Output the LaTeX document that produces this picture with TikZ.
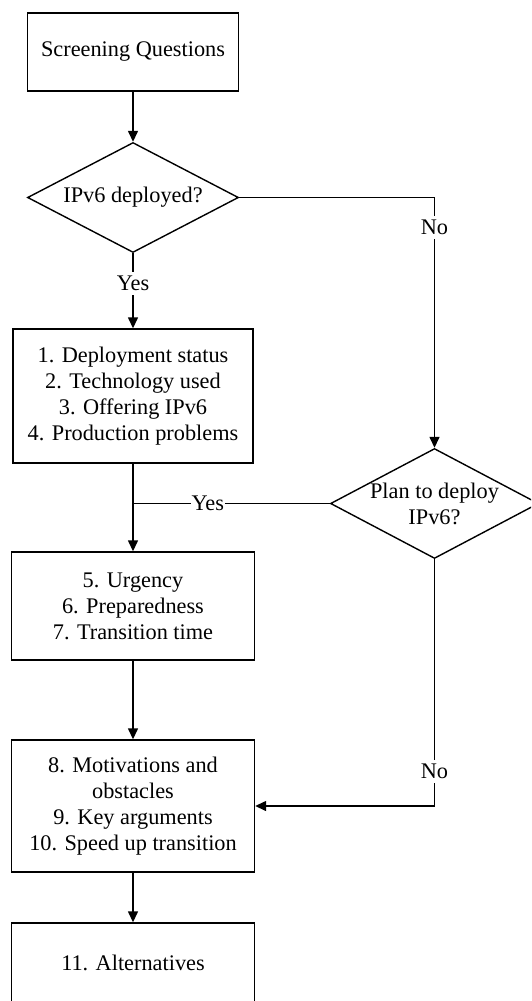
\documentclass[tikz,border=0pt]{standalone}
\usepackage{fontspec}
\setmainfont{Liberation Serif}
\usepackage{tikz}
\usetikzlibrary{arrows.meta}
\usetikzlibrary{shapes.geometric}
\tikzset{
    flownode/.style = {align=center, inner sep=0pt, text centered, font=\fontsize{22.3}{26}\selectfont},
    box_node/.style = {flownode, rectangle, draw=black, line width=1.4pt, minimum width=243pt},
    dec_node/.style = {flownode, diamond, draw=black, line width=1.4pt, aspect=1.9, inner sep=-12pt, minimum width=211pt, minimum height=110pt},
    ans_node/.style = {flownode, fill=white, inner xsep=1pt, inner ysep=4pt},
    flow/.style = {line width=1.4pt, -{Triangle[length=11pt, width=10pt]}}
}

\begin{document}
\begin{tikzpicture}[x=1pt, y=-1pt]
    \useasboundingbox (0,0) rectangle (531,1001);
    \clip (0,0) rectangle (531,1001);
    \node [box_node, minimum width=211pt, minimum height=78pt] (screen) at (133,52) {Screening Questions};
    \node [dec_node] (deployed) at (133,197.5) {IPv6 deployed?};
    \node [box_node, minimum width=240pt, minimum height=134pt] (status) at (133,396) {1. Deployment status\\2. Technology used\\3. Offering IPv6\\4. Production problems};
    \node [dec_node, minimum width=208pt] (plan) at (434.5,503.5) {Plan to deploy\\IPv6?};
    \node [box_node, minimum height=108pt] (urgency) at (133,606) {5. Urgency\\6. Preparedness\\7. Transition time};
    \node [box_node, minimum height=132pt] (motive) at (133,806) {8. Motivations and\\obstacles\\9. Key arguments\\10. Speed up transition};
    \node [box_node, minimum height=80pt] (alter) at (133,963) {11. Alternatives};

    \draw [flow] (screen.south) -- (deployed.north);
    \draw [flow] (deployed.south) -- node [ans_node, pos=0.4] {Yes} (status.north);
    \draw [flow] (deployed.east) -| node [ans_node, pos=0.56] {No} (plan.north);
    \draw [flow] (status.south) -- (urgency.north);
    \draw [line width=1.4pt] (plan.west) -- node [ans_node, pos=0.62] {Yes} (plan.west -| status.south);
    \draw [flow] (plan.south) |- node [ans_node, pos=0.43] {No} (motive.east);
    \draw [flow] (urgency.south) -- (motive.north);
    \draw [flow] (motive.south) -- (alter.north);
\end{tikzpicture}
\end{document}
